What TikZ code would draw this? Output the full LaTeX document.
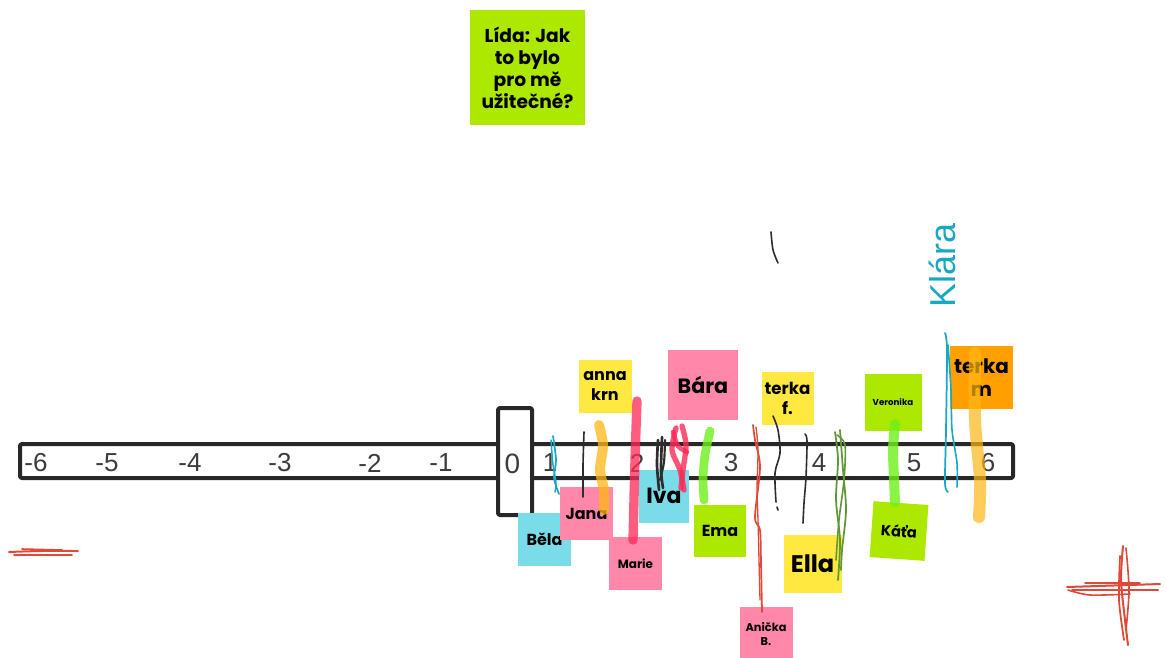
\documentclass[tikz,border=0pt]{standalone}
\usepackage{fontspec}
\setmainfont{Liberation Sans}
\newfontfamily\notefont{Poppins}
\newfontfamily\handfont{Liberation Sans}
\definecolor{notegreen}{RGB}{172,232,0}
\definecolor{noteyellow}{RGB}{255,233,64}
\definecolor{notepink}{RGB}{255,135,170}
\definecolor{notecyan}{RGB}{122,220,232}
\definecolor{noteorange}{RGB}{255,160,0}
\definecolor{barcol}{RGB}{40,40,40}
\definecolor{numcol}{RGB}{60,60,60}
\definecolor{inkblack}{RGB}{45,45,45}
\definecolor{inkcyan}{RGB}{25,168,195}
\definecolor{inkred}{RGB}{224,72,55}
\definecolor{inkpink}{RGB}{255,40,85}
\definecolor{inkorange}{RGB}{255,182,20}
\definecolor{inklime}{RGB}{110,240,25}
\definecolor{inkolive}{RGB}{95,150,55}
\tikzset{
  bar/.style={draw=barcol, line width=3pt, fill=white, rounded corners=1.5pt},
  num/.style={text=numcol, font=\fontsize{19.5}{19.5}\selectfont, inner sep=0pt},
  sticky/.style 2 args={minimum width=#1*0.75pt, minimum height=#2*0.75pt,
    inner sep=0pt, align=center, text=black},
  pen/.style={line width=1.2pt, draw=inkblack},
  thinred/.style={line width=1.3pt, draw=inkred},
  marker/.style={line width=#1, opacity=0.8},
}
\newcommand{\nf}[2]{\notefont\bfseries\fontsize{#1}{#2}\selectfont}
\begin{document}
\begin{tikzpicture}[x=0.75pt, y=-0.75pt, line cap=round, line join=round]
\useasboundingbox (0,0) rectangle (1166,657);
\fill[white] (0,0) rectangle (1166,657);

% number line and the zero box
\draw[bar] (20,444) rectangle (1013,478);
\draw[bar] (498,408) rectangle (532,515);

% scale labels
\foreach \v/\x [count=\i] in {-6/36,-5/107,-4/190,-3/280,-2/370,-1/441,1/550,2/637,3/731,4/819,5/914,6/988}
  \node[num] (n\i) at (\x,463) {\v};
\node[num, font=\fontsize{21}{21}\selectfont] (zero) at (512.5,464) {0};

% question note
\node[sticky={115}{115}, fill=notegreen, font=\nf{14}{16.5}] (lida) at (527.5,67.5)
  {Lída: Jak\\to bylo\\pro mě\\užitečné?};

% sticky notes above the line
\node[sticky={53}{53}, fill=noteyellow, font=\nf{12}{15}] (anna) at (605,386) {anna\\krn};
\node[sticky={70}{70}, fill=notepink, font=\nf{15.5}{18}] (bara) at (703,385) {Bára};
\node[sticky={52}{53}, fill=noteyellow, font=\nf{12.5}{15}] (terkaf) at (787.5,398) {terka\\f.};
\node[sticky={57}{57}, fill=notegreen, font=\nf{6.5}{8}] (veronika) at (893,402) {Veronika};
\node[sticky={63}{63}, fill=noteorange, font=\nf{15}{17}] (terkam) at (981.5,377.5) {terka\\m};

% sticky notes below the line
\node[sticky={50}{53}, fill=notecyan, font=\nf{16.5}{18}] (iva) at (664,496) {Iva};
\node[sticky={53}{53}, fill=notecyan, font=\nf{12}{14}] (bela) at (544.5,539) {Běla};
\node[sticky={53}{53}, fill=notepink, font=\nf{12}{14}] (jana) at (586.5,513.5) {Jana};
\node[sticky={53}{53}, fill=notepink, font=\nf{9}{11}] (marie) at (635.5,563.5) {Marie};
\node[sticky={52}{52}, fill=notegreen, font=\nf{12}{14}] (ema) at (720,531) {Ema};
\node[sticky={58}{58}, fill=noteyellow, font=\nf{18}{20}] (ella) at (812.5,563.5) {Ella};
\node[sticky={53}{53}, fill=notepink, font=\nf{8.5}{10.5}] (anicka) at (766,633.5) {Anička\\B.};
\node[sticky={55}{56}, fill=notegreen, font=\nf{11}{13}, rotate=-4] (kata) at (899,531) {Káťa};

% hand-drawn marks
\draw[inkcyan, line width=1.3pt] plot[smooth] coordinates {(553,436) (556,460) (554,478) (559,494)};
\draw[inkcyan, line width=1.1pt] plot[smooth] coordinates {(551,440) (553,465) (556,482) (555,492)};
\draw[pen] plot[smooth] coordinates {(584,432) (583,465) (583,497)};
\draw[inkorange, marker=7.5pt, opacity=0.75] plot[smooth] coordinates {(599,425) (603,445) (600,470) (604,490) (604,510)};
\draw[inkpink, marker=7pt, opacity=0.75] plot[smooth] coordinates {(637,401) (635,460) (633,540)};
\draw[inkblack, line width=2pt] plot[smooth] coordinates {(658,440) (657,465) (659,490)};
\draw[inkblack, line width=2pt] plot[smooth] coordinates {(662,437) (661,470) (663,488)};
\draw[inkblack, line width=1.6pt] plot[smooth] coordinates {(665,440) (664,462) (660,480)};
\draw[inkpink, marker=4pt] plot[smooth] coordinates {(676,428) (672,450) (680,470) (684,490)};
\draw[inkpink, marker=4pt] plot[smooth] coordinates {(682,426) (686,445) (683,470) (681,488)};
\draw[inkpink, marker=3.5pt] plot[smooth] coordinates {(673,432) (678,446) (687,452)};
\draw[inklime, marker=6.5pt] plot[smooth] coordinates {(710,431) (705,455) (703,478) (704,500)};
\draw[thinred] plot[smooth] coordinates {(753,425) (755,440) (760,467) (755,517) (760,530) (761,563) (762,612)};
\draw[thinred, line width=1pt] plot[smooth] coordinates {(756,427) (758,450) (757,490) (758,520) (759,560) (760,600)};
\draw[pen] plot[smooth] coordinates {(773,416) (778,430) (780,453) (775,473) (776,502)};
\draw[pen] (777,507) -- (778,510);
\draw[pen] plot[smooth] coordinates {(805,434) (807,441) (806,477) (804,503) (803,523)};
\draw[inkolive, line width=1.3pt] plot[smooth] coordinates {(835,432) (838,460) (836,500) (840,540) (838,580)};
\draw[inkolive, line width=1.3pt] plot[smooth] coordinates {(840,430) (843,470) (846,510) (842,550) (841,570)};
\draw[inkolive, line width=1.2pt] plot[smooth] coordinates {(837,435) (845,445) (844,480) (839,520) (836,560)};
\draw[inklime, marker=7.5pt] plot[smooth] coordinates {(895,424) (893,450) (894,478) (895,502)};
\draw[inkcyan, line width=1.3pt] plot[smooth] coordinates {(945,333) (947,350) (946,430) (945,483) (948,492)};
\draw[inkcyan, line width=1.2pt] plot[smooth] coordinates {(948,345) (951,390) (952,430) (957,463) (957,487)};
\draw[inkorange, marker=9pt, opacity=0.7] plot[smooth] coordinates {(975,353) (975,420) (980,480) (979,517)};

% name written by hand
\node[rotate=90, text=inkcyan, font=\handfont\fontsize{27}{27}\selectfont, inner sep=0pt] (klara) at (942,265) {Klára};
\draw[pen] plot[smooth] coordinates {(771,232) (773,250) (778,263)};

% red scribbles
\draw[inkred, line width=1.5pt] plot[smooth] coordinates {(9,552) (40,551) (78,551)};
\draw[inkred, line width=1.3pt] plot[smooth] coordinates {(14,555) (45,555) (72,555)};
\draw[inkred, line width=1.2pt] plot[smooth] coordinates {(22,549) (62,550)};
\draw[inkred, line width=1.5pt] (1067,587) -- (1160,584);
\draw[inkred, line width=1.5pt] (1072,590) -- (1158,590);
\draw[inkred, line width=1.2pt] plot[smooth] coordinates {(1130,594) (1090,595) (1068,590)};
\draw[inkred, line width=1.2pt] (1085,583) -- (1140,583);
\draw[inkred, line width=1.5pt] plot[smooth] coordinates {(1123,546) (1121,580) (1125,620) (1128,645)};
\draw[inkred, line width=1.3pt] plot[smooth] coordinates {(1120,556) (1119,600) (1124,640)};
\draw[inkred, line width=1.2pt] plot[smooth] coordinates {(1126,548) (1129,590) (1126,630)};
\end{tikzpicture}
\end{document}
